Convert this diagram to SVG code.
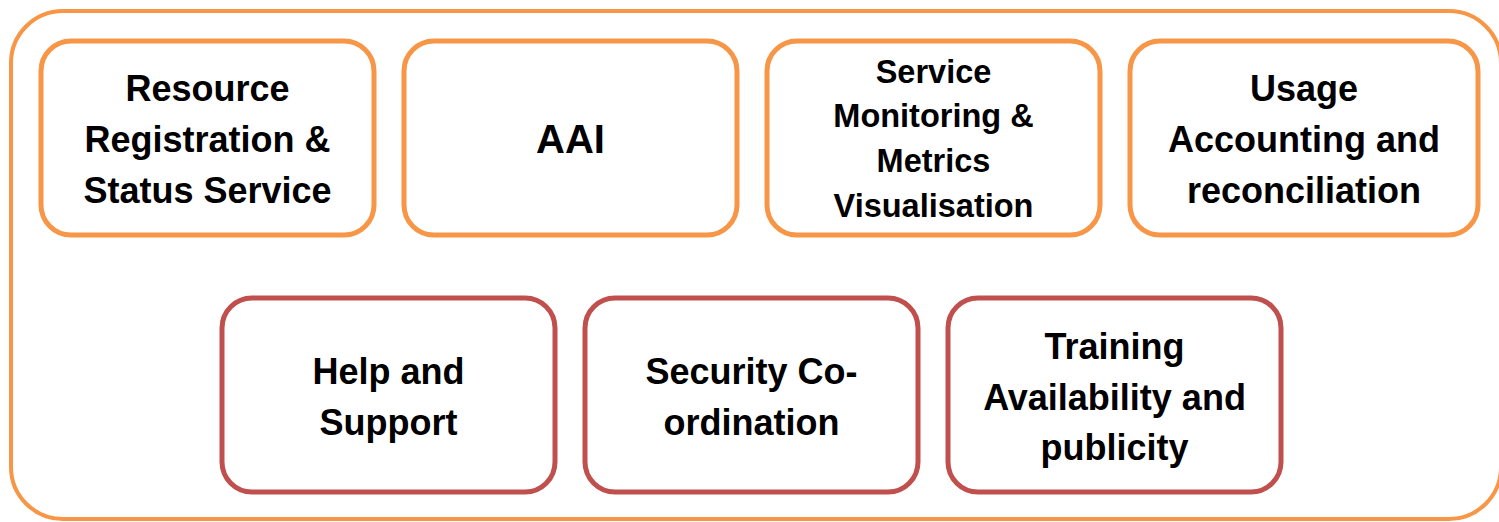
<svg xmlns="http://www.w3.org/2000/svg" width="1499" height="522" viewBox="0 0 1499 522">
<style>
.outer{fill:#FFFFFF;stroke:#F79646;stroke-width:4}
.o{fill:#FFFFFF;stroke:#F79646;stroke-width:5}
.r{fill:#FFFFFF;stroke:#C0504D;stroke-width:5}
text{font-family:"Liberation Sans",Arial,sans-serif;font-weight:bold;fill:#000000;text-anchor:middle;font-size:36px}
.s{font-size:32.5px}
.a{font-size:40px}
</style>
<rect x="0" y="0" width="1499" height="522" fill="#FFFFFF"/>
<g id="container">
<rect class="outer" x="11" y="11" width="1490" height="508" rx="52" ry="52"/>
</g>
<g id="connectors"></g>
<g id="node-resource">
<rect class="o" x="41" y="41" width="333" height="194" rx="30" ry="30"/>
<text x="207.5" y="101">Resource</text>
<text x="207.5" y="152">Registration &amp;</text>
<text x="207.5" y="203">Status Service</text>
</g>
<g id="node-aai">
<rect class="o" x="404" y="41" width="333" height="194" rx="30" ry="30"/>
<text class="a" x="570.5" y="153">AAI</text>
</g>
<g id="node-monitoring">
<rect class="o" x="767" y="41" width="333" height="194" rx="30" ry="30"/>
<text class="s" x="933.5" y="83">Service</text>
<text class="s" x="933.5" y="127">Monitoring &amp;</text>
<text class="s" x="933.5" y="172">Metrics</text>
<text class="s" x="933.5" y="217">Visualisation</text>
</g>
<g id="node-accounting">
<rect class="o" x="1130" y="41" width="348" height="194" rx="30" ry="30"/>
<text x="1304" y="101">Usage</text>
<text x="1304" y="152">Accounting and</text>
<text x="1304" y="203">reconciliation</text>
</g>
<g id="node-help">
<rect class="r" x="222" y="298" width="333" height="194" rx="30" ry="30"/>
<text x="388.5" y="384">Help and</text>
<text x="388.5" y="435">Support</text>
</g>
<g id="node-security">
<rect class="r" x="585" y="298" width="333" height="194" rx="30" ry="30"/>
<text x="751.5" y="384">Security Co-</text>
<text x="751.5" y="435">ordination</text>
</g>
<g id="node-training">
<rect class="r" x="948" y="298" width="333" height="194" rx="30" ry="30"/>
<text x="1114.5" y="359">Training</text>
<text x="1114.5" y="410">Availability and</text>
<text x="1114.5" y="460">publicity</text>
</g>
</svg>
